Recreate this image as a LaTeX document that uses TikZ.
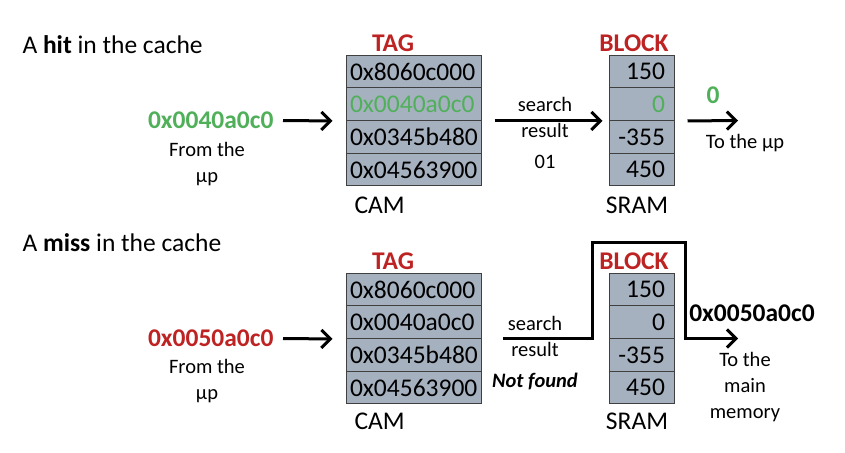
\documentclass[tikz,border=0pt]{standalone}
\usepackage{fontspec}
\setmainfont{Carlito}
\usetikzlibrary{arrows.meta}
\definecolor{cellfill}{RGB}{166,177,192}
\definecolor{hitgreen}{RGB}{80,176,90}
\definecolor{missred}{RGB}{190,35,35}
\begin{document}
\begin{tikzpicture}[x=1pt,y=-1pt,
  big/.style={font=\fontsize{25.5}{29}\selectfont},
  bigb/.style={font=\fontsize{25.5}{29}\selectfont\bfseries},
  small/.style={font=\fontsize{20.5}{26}\selectfont, align=center},
  cell/.style={draw=black!75, line width=1pt, fill=cellfill, minimum height=32.75pt, inner sep=0pt, big},
  camcell/.style={cell, minimum width=135pt, text width=127pt, align=left},
  sramcell/.style={cell, minimum width=65pt, text width=47pt, align=right},
  arr/.style={line width=3pt, -{Straight Barb[length=9pt,width=18pt]}},
]
\useasboundingbox (0,0) rectangle (845,452);

% ---------------- HIT ----------------
\node[big, anchor=west] (hitTitle) at (19,45) {A \textbf{hit} in the cache};
\node[bigb, text=missred] (tagA) at (393,43) {TAG};
\node[bigb, text=missred] (blockA) at (634,43) {BLOCK};

\node[camcell] (ca1) at (413.5,71.4) {0x8060c000};
\node[camcell, text=hitgreen] (ca2) at (413.5,104.1) {0x0040a0c0};
\node[camcell] (ca3) at (413.5,136.9) {0x0345b480};
\node[camcell] (ca4) at (413.5,169.6) {0x04563900};

\node[sramcell] (sa1) at (641.5,71.4) {150};
\node[sramcell, text=hitgreen] (sa2) at (641.5,104.1) {0};
\node[sramcell] (sa3) at (641.5,136.9) {-355};
\node[sramcell] (sa4) at (641.5,169.6) {450};

\node[big, anchor=west] (camA) at (351,205) {CAM};
\node[big] (sramA) at (637,205) {SRAM};

\node[bigb, text=hitgreen, anchor=east] (inA) at (277,120.5) {0x0040a0c0};
\node[small] (fromA) at (207,164) {From the\\µp};
\draw[arr] ([xshift=6pt]inA.east) -- ([xshift=-13pt]ca2.south west);

\node[small] (srA) at (545,117) {search\\result};
\node[small] (codeA) at (545,162) {01};
\draw[arr] ([xshift=13pt]ca2.south east) -- ([xshift=-6pt]sa2.south west);

\coordinate (outA) at (738,120.5);
\draw[arr] ([xshift=13pt]sa2.south east) -- (outA);
\node[bigb, text=hitgreen] (zeroA) at (713,95) {0};
\node[small] (toA) at (745,143) {To the µp};

% ---------------- MISS ----------------
\node[big, anchor=west] (missTitle) at (19,243) {A \textbf{miss} in the cache};
\node[bigb, text=missred] (tagB) at (393,261) {TAG};
\node[bigb, text=missred] (blockB) at (634,261) {BLOCK};

\node[camcell] (cb1) at (413.5,289.4) {0x8060c000};
\node[camcell] (cb2) at (413.5,322.1) {0x0040a0c0};
\node[camcell] (cb3) at (413.5,354.9) {0x0345b480};
\node[camcell] (cb4) at (413.5,387.6) {0x04563900};

\node[sramcell] (sb1) at (641.5,289.4) {150};
\node[sramcell] (sb2) at (641.5,322.1) {0};
\node[sramcell] (sb3) at (641.5,354.9) {-355};
\node[sramcell] (sb4) at (641.5,387.6) {450};

\node[big, anchor=west] (camB) at (351,421) {CAM};
\node[big] (sramB) at (637,421) {SRAM};

\node[bigb, text=missred, anchor=east] (inB) at (277,338.5) {0x0050a0c0};
\node[small] (fromB) at (207,381) {From the\\µp};
\draw[arr] ([xshift=6pt]inB.east) -- ([xshift=-13pt]cb2.south west);

\node[small] (srB) at (535,336) {search\\result};
\node[font=\fontsize{20.5}{26}\selectfont\bfseries\itshape] (nfB) at (535,381) {Not found};

\coordinate (mStart) at (503,338.5);
\coordinate (mUp) at (592,242);
\coordinate (mOver) at (685,242);
\coordinate (mEnd) at (738,338.5);
\draw[arr, line join=miter] (mStart) -- (mStart -| mUp) -- (mUp) -- (mOver) -- (mOver |- mEnd) -- (mEnd);

\node[bigb] (addrB) at (752,313) {0x0050a0c0};
\node[small] (toB) at (745,387) {To the\\main\\memory};
\end{tikzpicture}
\end{document}
